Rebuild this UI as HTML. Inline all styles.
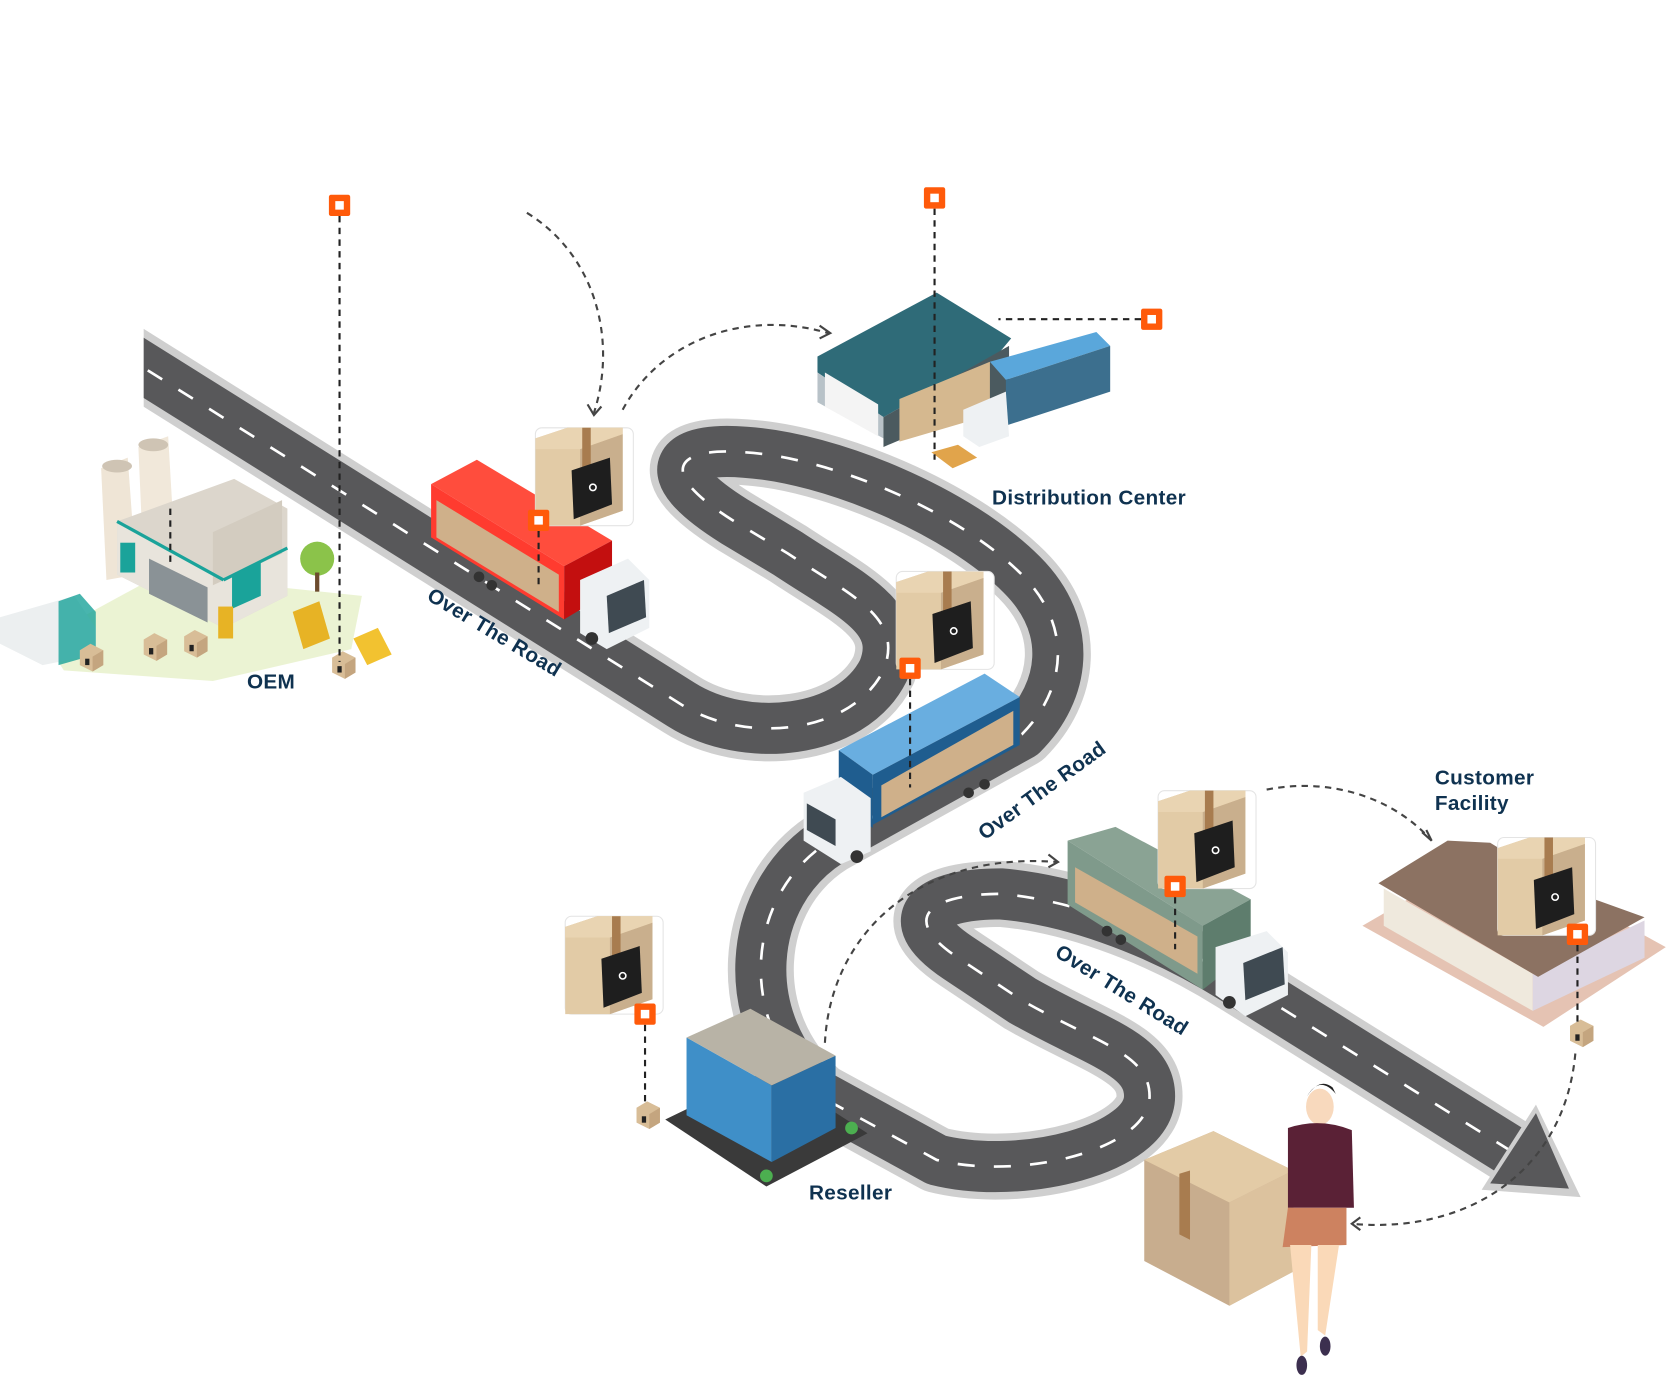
<!DOCTYPE html>
<html><head><meta charset="utf-8"><style>
html,body{margin:0;padding:0;background:#fff;width:1669px;height:1377px;overflow:hidden}
svg{display:block}
.lbl{font-family:"Liberation Sans",sans-serif;font-weight:bold;fill:#0f3250;font-size:19.5px;letter-spacing:0.3px}
.dash{fill:none;stroke:#222;stroke-width:2;stroke-dasharray:6 5}
.arc{fill:none;stroke:#444;stroke-width:2;stroke-dasharray:6 5}
</style></head><body>
<svg width="1669" height="1377" viewBox="0 0 1568 1294" preserveAspectRatio="none" xmlns="http://www.w3.org/2000/svg">
<defs>
<clipPath id="rc"><rect x="135" y="0" width="1433" height="1294"/></clipPath>
<path id="road" d="M110,330 L640,662 C700,700 800,690 830,630 C850,580 800,560 740,520 L690,490 C610,440 640,420 700,425 C780,430 900,480 960,540 C1010,590 1000,650 960,690 L780,790 C700,840 690,960 770,1030 L880,1090 C960,1110 1080,1080 1080,1030 C1080,990 1030,980 960,940 L900,900 C840,860 880,840 940,840 C1000,845 1080,870 1160,920 L1425,1085"/>
<g id="card">
<rect x="0" y="0" width="92" height="92" rx="6" fill="#fff" stroke="#e4e4e4"/>
<polygon points="0,10 30,0 82,0 82,78 42,92 0,92" fill="#e2cba6"/>
<polygon points="42,20 82,6 82,78 42,92" fill="#c9af8d"/>
<polygon points="0,10 30,0 82,0 82,6 42,20 0,20" fill="#e9d4b2"/>
<polygon points="44,0 52,0 52,40 44,44" fill="#a87c4f"/>
<polygon points="34,40 70,28 72,72 36,86" fill="#1e1e1e"/>
<circle cx="54" cy="56" r="3" fill="none" stroke="#fff" stroke-width="1.5"/>
</g>
<g id="osq"><rect x="-10" y="-10" width="20" height="20" rx="2" fill="#ff5a0a"/><rect x="-4" y="-4" width="8" height="8" fill="#fff"/></g>
<g id="bx"><polygon points="0,6 10,0 22,6 22,20 12,26 0,20" fill="#d8bd97"/><polygon points="12,12 22,6 22,20 12,26" fill="#c4a57f"/><rect x="5" y="14" width="4" height="6" fill="#222"/></g>
</defs>

<!-- road -->
<g fill="none" stroke-linejoin="round" clip-path="url(#rc)">
<use href="#road" stroke="#cfcfcf" stroke-width="62"/>
<use href="#road" stroke="#58585a" stroke-width="48"/>
<use href="#road" stroke="#fff" stroke-width="2.5" stroke-dasharray="16 18"/>
</g>
<polygon points="1392,1118 1443,1038 1485,1125" fill="#cfcfcf"/>
<polygon points="1400,1112 1443,1046 1474,1117" fill="#58585a"/>

<!-- factory OEM -->
<polygon points="40,600 150,540 340,560 330,610 200,640 60,630" fill="#e6f0c8" opacity="0.8"/>
<polygon points="95,440 120,430 128,540 100,545" fill="#efe5d6"/>
<ellipse cx="110" cy="438" rx="14" ry="6" fill="#cfc4b4"/>
<polygon points="130,420 158,410 165,530 135,535" fill="#f1e8da"/>
<ellipse cx="144" cy="418" rx="14" ry="6" fill="#cfc4b4"/>
<polygon points="110,490 220,450 270,478 270,560 210,590 110,540" fill="#dcd6cc"/>
<polygon points="110,490 210,545 270,515 270,560 210,590 110,540" fill="#e8e4dc"/>
<polygon points="140,525 195,552 195,585 140,558" fill="#8a9296"/>
<polygon points="200,500 265,470 265,520 200,550" fill="#d3ccc0"/>
<line x1="110" y1="490" x2="210" y2="545" stroke="#1aa39a" stroke-width="3"/>
<line x1="210" y1="545" x2="270" y2="515" stroke="#1aa39a" stroke-width="3"/>
<rect x="113" y="510" width="14" height="28" fill="#1aa39a"/>
<polygon points="218,540 245,527 245,560 218,572" fill="#1aa39a"/>
<rect x="205" y="570" width="14" height="30" fill="#e7b325"/>
<circle cx="298" cy="525" r="16" fill="#8bc34a"/><rect x="296" y="538" width="4" height="18" fill="#6d4c2f"/>
<polygon points="0,580 70,560 90,590 90,615 40,625 0,605" fill="#eceff0"/>
<polygon points="55,565 75,558 90,575 90,615 55,625" fill="#1aa39a" opacity="0.8"/>
<use href="#bx" x="135" y="595"/><use href="#bx" x="173" y="592"/><use href="#bx" x="75" y="605"/>
<polygon points="275,575 300,565 310,600 285,610" fill="#e7b325"/>
<polygon points="332,600 355,590 368,615 345,625" fill="#f2c230"/>
<use href="#bx" x="312" y="612"/>

<!-- red truck -->
<polygon points="405,455 448,432 575,508 530,532" fill="#ff4d3d"/>
<polygon points="405,455 530,532 530,582 405,505" fill="#ff3b2f"/>
<polygon points="410,470 525,540 525,575 410,505" fill="#cfb08a"/>
<polygon points="530,532 575,508 575,555 530,582" fill="#c30f0f"/>
<polygon points="545,545 590,525 610,545 610,590 570,610 545,595" fill="#eef1f3"/>
<polygon points="570,560 605,545 607,580 572,595" fill="#3f4a52"/>
<circle cx="450" cy="542" r="5" fill="#333"/><circle cx="462" cy="550" r="5" fill="#333"/><circle cx="556" cy="600" r="6" fill="#333"/>

<!-- distribution center -->
<polygon points="768,335 880,275 950,318 940,330 830,392 768,350" fill="#2f6b78"/>
<polygon points="768,350 830,392 830,412 768,378" fill="#b8c2c8"/>
<polygon points="775,350 825,380 825,410 775,382" fill="#f4f4f4"/>
<polygon points="830,392 948,325 948,370 830,420" fill="#4b5a5f"/>
<polygon points="845,375 930,340 930,390 845,415" fill="#d5b88f"/>
<polygon points="930,340 1030,312 1043,325 945,357" fill="#5aa7db"/>
<polygon points="945,357 1043,325 1043,368 945,400" fill="#3c6f8e"/>
<polygon points="905,385 945,368 948,410 920,420 905,410" fill="#eef1f3"/>
<polygon points="875,425 900,418 918,430 895,440" fill="#e1a44b"/>

<!-- blue truck -->
<polygon points="788,705 925,633 958,655 820,728" fill="#69aee0"/>
<polygon points="788,705 820,728 820,778 788,755" fill="#1f5d8f"/>
<polygon points="820,728 958,655 958,700 820,775" fill="#1f5d8f"/>
<polygon points="828,738 952,668 952,700 828,768" fill="#cfb08a"/>
<polygon points="755,745 790,730 818,750 818,800 790,812 755,790" fill="#eef1f3"/>
<polygon points="758,755 785,770 785,795 758,780" fill="#3f4a52"/>
<circle cx="805" cy="805" r="6" fill="#333"/><circle cx="910" cy="745" r="5" fill="#333"/><circle cx="925" cy="737" r="5" fill="#333"/>

<!-- green truck -->
<polygon points="1003,790 1048,777 1175,845 1130,870" fill="#8aa394"/>
<polygon points="1003,790 1130,870 1130,930 1003,850" fill="#7f9a8b"/>
<polygon points="1010,815 1125,880 1125,915 1010,848" fill="#cfb08a"/>
<polygon points="1130,870 1175,845 1175,895 1130,930" fill="#5e7d6d"/>
<polygon points="1142,890 1190,875 1210,895 1210,935 1170,955 1142,935" fill="#eef1f3"/>
<polygon points="1168,905 1205,890 1207,925 1170,940" fill="#3f4a52"/>
<circle cx="1040" cy="875" r="5" fill="#333"/><circle cx="1053" cy="883" r="5" fill="#333"/><circle cx="1155" cy="942" r="6" fill="#333"/>

<!-- customer facility -->
<polygon points="1280,870 1450,965 1565,890 1400,800" fill="#e5c3b3"/>
<polygon points="1300,835 1440,915 1440,950 1300,870" fill="#efe9dd"/>
<polygon points="1440,915 1545,865 1545,900 1440,950" fill="#ddd6e2"/>
<polygon points="1295,830 1360,790 1400,792 1470,835 1545,862 1445,918" fill="#8c7262"/>

<!-- reseller -->
<polygon points="625,1052 720,1115 815,1065 722,1005" fill="#3a3a3a"/>
<polygon points="645,975 725,1020 725,1092 645,1048" fill="#3f8fc8"/>
<polygon points="725,1020 785,992 785,1060 725,1092" fill="#2a6fa4"/>
<polygon points="645,975 705,948 785,992 725,1020" fill="#b8b3a6"/>
<circle cx="720" cy="1105" r="6" fill="#4caf50"/><circle cx="800" cy="1060" r="6" fill="#4caf50"/>
<use href="#bx" x="598" y="1035"/>
<use href="#bx" x="1475" y="958"/>

<!-- big box & woman -->
<polygon points="1075,1090 1140,1063 1215,1100 1215,1195 1155,1227 1075,1185" fill="#c8ad8e"/>
<polygon points="1075,1090 1140,1063 1215,1100 1155,1130" fill="#e3cba6"/>
<polygon points="1155,1130 1215,1100 1215,1195 1155,1227" fill="#dcc29e"/>
<polygon points="1108,1103 1118,1100 1118,1165 1108,1160" fill="#a87c4f"/>
<ellipse cx="1240" cy="1040" rx="13" ry="17" fill="#f8d9bd"/>
<path d="M1228,1030 Q1240,1010 1255,1028 L1252,1022 Q1240,1012 1228,1030Z" fill="#222"/>
<path d="M1210,1060 Q1240,1050 1270,1062 L1272,1135 L1210,1135 Z" fill="#5a2136"/>
<path d="M1210,1135 L1265,1135 L1265,1170 L1205,1172Z" fill="#cd8260"/>
<path d="M1212,1170 L1232,1170 L1228,1270 L1222,1275Z M1238,1170 L1258,1170 L1245,1255 L1238,1250Z" fill="#fad9b8"/>
<ellipse cx="1223" cy="1283" rx="5" ry="9" fill="#3c2f4f"/><ellipse cx="1245" cy="1265" rx="5" ry="9" fill="#3c2f4f"/>

<!-- cards -->
<use href="#card" x="503" y="402"/>
<use href="#card" x="842" y="537"/>
<use href="#card" x="1088" y="743"/>
<use href="#card" x="531" y="861"/>
<use href="#card" x="1407" y="787"/>

<!-- dashed lines -->
<path class="dash" d="M319,203 V622 M878,196 V432 M1072,300 H938 M506,499 V552 M855,638 V740 M1104,843 V892 M606,963 V1040 M1482,888 V965 M160,478 V530"/>
<path class="arc" d="M495,200 C560,240 580,320 558,388"/>
<path class="arc" d="M585,385 C620,320 700,290 778,313"/>
<path class="arc" d="M1190,742 C1250,730 1310,750 1345,790"/>
<path class="arc" d="M775,980 C780,880 860,800 993,810"/>
<path class="arc" d="M1480,990 C1470,1100 1380,1160 1270,1150"/>
<g fill="none" stroke="#444" stroke-width="2">
<path d="M552,380 L558,390 L565,382"/><path d="M770,306 L780,313 L770,318"/><path d="M1336,782 L1345,790 L1340,780"/><path d="M985,803 L994,810 L985,815"/><path d="M1278,1144 L1270,1150 L1278,1156"/>
</g>

<!-- orange squares -->
<use href="#osq" x="319" y="193"/><use href="#osq" x="878" y="186"/><use href="#osq" x="1082" y="300"/>
<use href="#osq" x="506" y="489"/><use href="#osq" x="855" y="628"/><use href="#osq" x="1104" y="833"/>
<use href="#osq" x="606" y="953"/><use href="#osq" x="1482" y="878"/>

<!-- labels -->
<text class="lbl" x="232" y="647">OEM</text>
<text class="lbl" x="932" y="474">Distribution Center</text>
<text class="lbl" x="1348" y="737">Customer</text>
<text class="lbl" x="1348" y="761">Facility</text>
<text class="lbl" x="760" y="1127">Reseller</text>
<text class="lbl" transform="translate(400,563) rotate(31)">Over The Road</text>
<text class="lbl" transform="translate(925,790) rotate(-36)">Over The Road</text>
<text class="lbl" transform="translate(990,898) rotate(32)">Over The Road</text>
</svg>
</body></html>
